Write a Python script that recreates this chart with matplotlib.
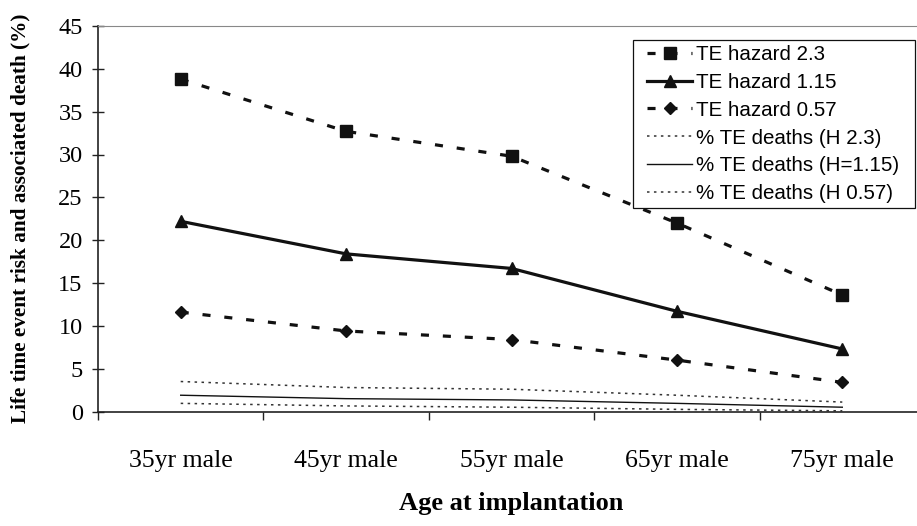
import matplotlib
matplotlib.use("Agg")
import matplotlib.pyplot as plt
from matplotlib.patches import Rectangle
from matplotlib.ticker import FixedLocator, NullFormatter

# Data
categories = ["35yr male", "45yr male", "55yr male", "65yr male", "75yr male"]
te_hazard_23 = [38.8, 32.7, 29.8, 22.0, 13.6]
te_hazard_115 = [22.2, 18.4, 16.7, 11.7, 7.3]
te_hazard_057 = [11.6, 9.4, 8.4, 6.0, 3.4]
deaths_h23 = [3.5, 2.8, 2.6, 1.9, 1.1]
deaths_h115 = [1.9, 1.5, 1.35, 0.95, 0.5]
deaths_h057 = [0.95, 0.65, 0.5, 0.25, 0.08]
y_ticks = [0, 5, 10, 15, 20, 25, 30, 35, 40, 45]

plt.rcParams["lines.scale_dashes"] = False

W, H = 917, 526
fig = plt.figure(figsize=(W / 100, H / 100), dpi=100)
ax = fig.add_axes([98 / W, 1 - 411.5 / H, (925 - 98) / W, (411.5 - 26) / H])

x = list(range(len(categories)))
ink = "#111111"

dash = (0, (5.8, 10.0))
dot = (0, (1.8, 3.2))

ax.plot(x, te_hazard_23, color=ink, lw=2.3, linestyle=dash, marker="s", ms=8,
        label="TE hazard 2.3")
ax.plot(x, te_hazard_115, color=ink, lw=2.3, linestyle="-", marker="^", ms=8,
        label="TE hazard 1.15")
ax.plot(x, te_hazard_057, color=ink, lw=2.3, linestyle=dash, marker="D", ms=6,
        label="TE hazard 0.57")
ax.plot(x, deaths_h23, color="#333333", lw=1.1, linestyle=dot,
        label="% TE deaths (H 2.3)")
ax.plot(x, deaths_h115, color=ink, lw=1.0, linestyle="-",
        label="% TE deaths (H=1.15)")
ax.plot(x, deaths_h057, color="#333333", lw=1.1, linestyle=dot,
        label="% TE deaths (H 0.57)")

ax.set_xlim(-0.5, len(categories) - 0.5)
ax.set_ylim(0, 45)

# Spines
for side in ("left", "bottom"):
    ax.spines[side].set_color("#222222")
    ax.spines[side].set_linewidth(1.2)
ax.spines["top"].set_color("#888888")
ax.spines["top"].set_linewidth(0.8)
ax.spines["right"].set_visible(False)

serif = "Liberation Serif"

# x axis: ticks at category boundaries, labels centred on categories
ax.xaxis.set_major_locator(FixedLocator([i - 0.5 for i in range(len(categories) + 1)]))
ax.xaxis.set_major_formatter(NullFormatter())
ax.xaxis.set_minor_locator(FixedLocator(x))
ax.set_xticklabels(categories, minor=True)
ax.tick_params(axis="x", which="major", direction="out", length=6, width=1.0,
               color="#222222", top=False)
ax.tick_params(axis="x", which="minor", length=0, pad=28, labelsize=18.5)
for lbl in ax.get_xticklabels(minor=True):
    lbl.set_fontfamily(serif)

# y axis
ax.set_yticks(y_ticks)
ax.set_yticklabels([str(v) for v in y_ticks])
ax.tick_params(axis="y", direction="inout", length=8, width=1.0, color="#222222",
               pad=7, labelsize=17.5, right=False)
for lbl in ax.get_yticklabels():
    lbl.set_fontfamily(serif)

ax.set_xlabel("Age at implantation", fontfamily=serif, fontweight="bold",
              fontsize=19, labelpad=14)
ax.set_ylabel("Life time event risk and associated death (%)", fontfamily=serif,
              fontweight="bold", fontsize=15.3, labelpad=20)

# Legend box drawn as its own rectangle so the padding can differ per side
box = Rectangle((633 / W, 1 - 208 / H), (915 - 633) / W, (208 - 40) / H,
                transform=fig.transFigure, facecolor="white", edgecolor="#111111",
                linewidth=0.9, zorder=4.9, clip_on=False)
ax.add_patch(box)

leg = ax.legend(loc="upper left", bbox_to_anchor=(647 / W, 1 - 45 / H),
                bbox_transform=fig.transFigure, borderaxespad=0, borderpad=0,
                frameon=False, prop={"family": "Liberation Sans", "size": 14.8},
                handlelength=2.2, handletextpad=0.2,
                labelspacing=0.43, numpoints=1)
leg.set_zorder(5)

fig.savefig("out.png", dpi=100)
